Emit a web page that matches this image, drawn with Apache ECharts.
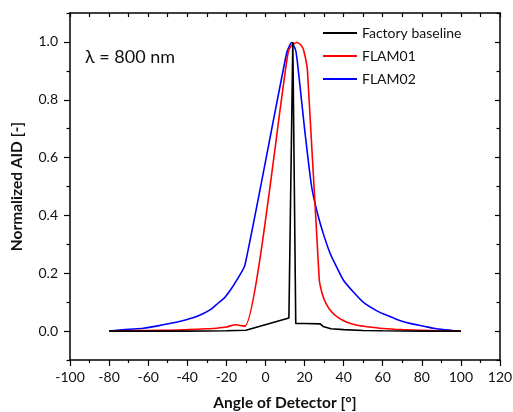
<!DOCTYPE html>
<html>
<head>
<meta charset="utf-8">
<script src="https://cdn.jsdelivr.net/npm/echarts@6/dist/echarts.min.js"></script>
<style>html,body{margin:0;padding:0;background:#fff}#c{width:513px;height:412px}</style>
</head>
<body>
<div id="c"></div>
<script>
// ---- data ----
const seriesNames = ['Factory baseline', 'FLAM01', 'FLAM02'];
const baselineX = [-80, -60, -40, -20, -10, 12, 14, 15.5, 20, 28, 29.5, 33.5, 40, 50, 60, 80, 100];
const baselineY = [0, 0, 0, 0.001, 0.003, 0.045, 1.0, 0.026, 0.026, 0.025, 0.016, 0.008, 0.005, 0.002, 0.001, 0, 0];
const flam01X = [-80, -70, -60, -50, -40, -30, -25, -20, -15.5, -10.5, 11.5, 13, 16, 18, 19.5, 21.5, 27.5, 29, 31, 34, 38, 42, 47, 52, 60, 70, 80, 90, 100];
const flam01Y = [0, 0.001, 0.002, 0.003, 0.005, 0.008, 0.010, 0.014, 0.022, 0.017, 0.96, 0.985, 0.998, 0.99, 0.972, 0.90, 0.18, 0.13, 0.095, 0.065, 0.043, 0.030, 0.020, 0.015, 0.009, 0.005, 0.003, 0.001, 0];
const flam02X = [-80, -70, -62.5, -55, -49, -43, -37, -32, -28, -25, -21, -18, -14.7, -10.5, 10.8, 13.4, 15.5, 17, 20, 23.6, 26.5, 29.6, 33, 36.4, 40, 45, 50, 57, 63, 69, 75, 81, 86, 91, 96, 100];
const flam02Y = [0, 0.006, 0.010, 0.018, 0.026, 0.035, 0.046, 0.06, 0.075, 0.092, 0.115, 0.141, 0.176, 0.228, 0.96, 0.998, 0.97, 0.89, 0.70, 0.50, 0.41, 0.337, 0.27, 0.222, 0.175, 0.135, 0.10, 0.07, 0.052, 0.036, 0.025, 0.017, 0.010, 0.005, 0.002, 0];
const yMajorTicks = [0, 0.2, 0.4, 0.6, 0.8, 1.0];
const yMinorTicks = [-0.1, 0.1, 0.3, 0.5, 0.7, 0.9, 1.1];
const annotation = 'λ = 800 nm';
const xTitle = 'Angle of Detector [°]';
const yTitle = 'Normalized AID [-]';

const pairs = (xs, ys) => xs.map((x, i) => [x, ys[i]]);
const FONT = 'Lato, "Open Sans", sans-serif';
const colors = ['#000000', '#ff0000', '#0000ff'];
const lineC = '#000';

const chart = echarts.init(document.getElementById('c'), null, {renderer: 'canvas'});
const gridBox = {left: 70, right: 13, top: 13, bottom: 52, containLabel: false, outerBoundsMode: 'none'};
const common = {type: 'value', min: -100, max: 120, interval: 20, splitLine: {show: false}};
const yCommon = {type: 'value', min: -0.1, max: 1.1, splitLine: {show: false}};
chart.setOption({
  animation: false,
  backgroundColor: '#fff',
  grid: [Object.assign({}, gridBox), Object.assign({}, gridBox)],
  legend: {
    orient: 'vertical', left: 323, top: 25, padding: 0,
    data: seriesNames.map(n => ({name: n, icon: 'rect'})),
    itemWidth: 34, itemHeight: 2, itemGap: 7,
    textStyle: {fontFamily: FONT, fontSize: 14, color: '#111', lineHeight: 16},
    selectedMode: false
  },
  graphic: [{
    type: 'text', left: 85, top: 48,
    style: {text: annotation, fontFamily: FONT, fontSize: 18, fill: '#111'}
  }],
  xAxis: [
    Object.assign({}, common, {
      gridIndex: 0, position: 'bottom', name: xTitle, nameLocation: 'middle', nameGap: 35,
      nameTextStyle: {fontFamily: FONT, fontSize: 15.5, fontWeight: 'bold', color: '#111'},
      axisLine: {show: true, onZero: false, lineStyle: {color: lineC, width: 1.5}},
      axisTick: {show: true, inside: false, length: 6, lineStyle: {color: lineC, width: 1.2}},
      minorTick: {show: true, splitNumber: 2, length: 3, lineStyle: {color: lineC, width: 1.2}},
      axisLabel: {fontFamily: FONT, fontSize: 14, color: '#111', margin: 10}
    }),
    Object.assign({}, common, {
      gridIndex: 0, position: 'top',
      axisLine: {show: true, onZero: false, lineStyle: {color: lineC, width: 1.5}},
      axisTick: {show: true, inside: true, length: 4, lineStyle: {color: lineC, width: 1.2}},
      minorTick: {show: true, splitNumber: 2, length: 4, lineStyle: {color: lineC, width: 1.2}},
      axisLabel: {show: false}
    }),
    Object.assign({}, common, {gridIndex: 1, show: false})
  ],
  yAxis: [
    Object.assign({}, yCommon, {
      gridIndex: 0, position: 'left', name: yTitle, nameLocation: 'middle', nameGap: 45,
      nameTextStyle: {fontFamily: FONT, fontSize: 15.5, fontWeight: 'bold', color: '#111'},
      axisLine: {show: true, onZero: false, lineStyle: {color: lineC, width: 1.5}},
      axisTick: {show: true, inside: false, length: 6, customValues: yMajorTicks, lineStyle: {color: lineC, width: 1.2}},
      axisLabel: {fontFamily: FONT, fontSize: 14, color: '#111', margin: 12, customValues: yMajorTicks,
        formatter: v => Number(v).toFixed(1)}
    }),
    Object.assign({}, yCommon, {
      gridIndex: 0, position: 'right',
      axisLine: {show: true, onZero: false, lineStyle: {color: lineC, width: 1.5}},
      axisTick: {show: true, inside: true, length: 5, customValues: yMajorTicks, lineStyle: {color: lineC, width: 1.2}},
      axisLabel: {show: false}
    }),
    Object.assign({}, yCommon, {
      gridIndex: 1, position: 'left',
      axisLine: {show: false, onZero: false},
      axisTick: {show: true, inside: false, length: 3.5, customValues: yMinorTicks, lineStyle: {color: lineC, width: 1.2}},
      axisLabel: {show: false}
    }),
    Object.assign({}, yCommon, {
      gridIndex: 1, position: 'right',
      axisLine: {show: false, onZero: false},
      axisTick: {show: true, inside: true, length: 3.5, customValues: yMinorTicks, lineStyle: {color: lineC, width: 1.2}},
      axisLabel: {show: false}
    })
  ],
  series: [
    {name: seriesNames[0], data: pairs(baselineX, baselineY)},
    {name: seriesNames[1], data: pairs(flam01X, flam01Y), smooth: 0.2},
    {name: seriesNames[2], data: pairs(flam02X, flam02Y), smooth: 0.2}
  ].map((s, i) => Object.assign({
    type: 'line', xAxisIndex: 0, yAxisIndex: 0, showSymbol: false, symbol: 'none',
    lineStyle: {color: colors[i], width: 1.6}, itemStyle: {color: colors[i]}, z: 3 - i
  }, s))
});
</script>
</body>
</html>
